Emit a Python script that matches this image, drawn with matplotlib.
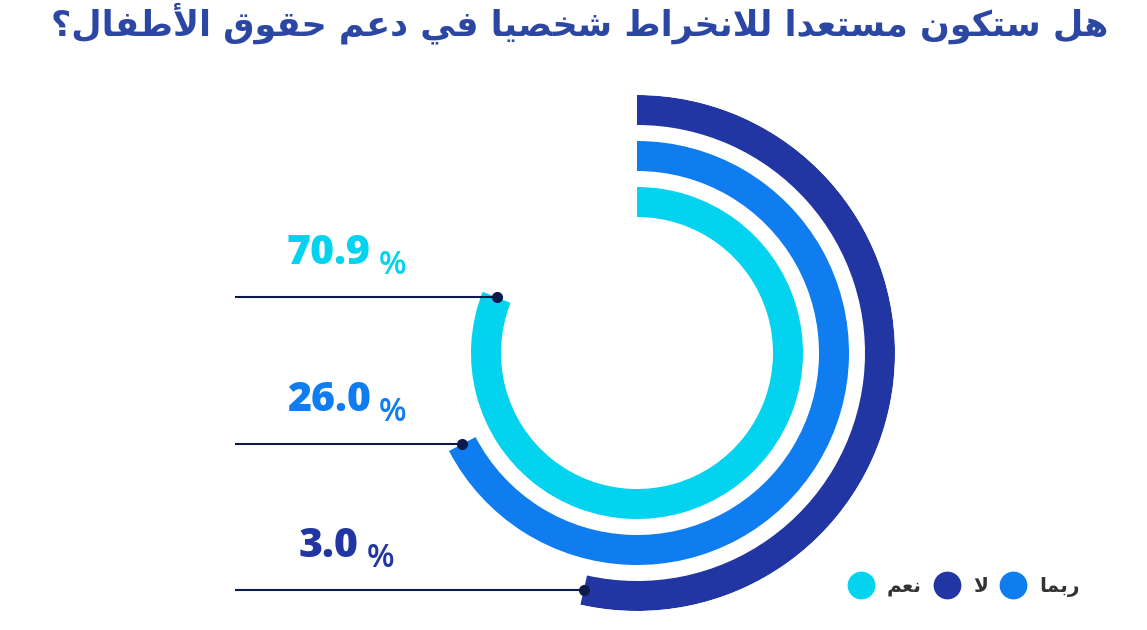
import numpy as np
import matplotlib
matplotlib.use('Agg')
import matplotlib.pyplot as plt
from matplotlib.lines import Line2D

# data
labels = ['نعم', 'ربما', 'لا']
values = [70.9, 26.0, 3.0]
colors = ['#03D3EF', '#0F7CF0', '#2135A3']
title = 'هل ستكون مستعدا للانخراط شخصيا في دعم حقوق الأطفال؟'
legend_order = ['نعم', 'لا', 'ربما']

# simple arabic shaping (matplotlib has no text shaping / bidi)
DUAL = {'ب': 0xFE8F, 'ت': 0xFE95, 'ح': 0xFEA1, 'خ': 0xFEA5, 'س': 0xFEB1,
        'ش': 0xFEB5, 'ص': 0xFEB9, 'ط': 0xFEC1, 'ع': 0xFEC9, 'ف': 0xFED1,
        'ق': 0xFED5, 'ك': 0xFED9, 'ل': 0xFEDD, 'م': 0xFEE1, 'ن': 0xFEE5,
        'ه': 0xFEE9, 'ي': 0xFEF1}
RIGHT = {'ا': 0xFE8D, 'أ': 0xFE83, 'د': 0xFEA9, 'ر': 0xFEAD, 'و': 0xFEED,
         '\ue000': 0xFEFB, '\ue001': 0xFEF7}


def shape(text):
    text = text.replace('لا', '\ue000').replace('لأ', '\ue001')
    out = []
    for i, ch in enumerate(text):
        if ch in DUAL:
            base = DUAL[ch]
        elif ch in RIGHT:
            base = RIGHT[ch]
        else:
            out.append(ch)
            continue
        prev = text[i - 1] if i > 0 else ''
        nxt = text[i + 1] if i + 1 < len(text) else ''
        jp = prev in DUAL
        jn = ch in DUAL and (nxt in DUAL or nxt in RIGHT)
        if jp and jn:
            code = base + 3
        elif jp:
            code = base + 1
        elif jn:
            code = base + 2
        else:
            code = base
        out.append(chr(code))
    return ''.join(reversed(out))


# the chart draws arcs on a sqrt-like scale (fitted from the picture)
def sweep_deg(v):
    return 360 * (0.464 + 0.0411 * np.sqrt(v))


W, H = 1147, 630
fig = plt.figure(figsize=(W / 100, H / 100), dpi=100)

cx, cy, R = 637, 353, 258
ax = fig.add_axes([(cx - R) / W, (H - cy - R) / H, 2 * R / W, 2 * R / H], projection='polar')
ax.set_theta_zero_location('N')
ax.set_theta_direction(-1)
ax.set_ylim(0, R)
ax.axis('off')

r_in = [136, 182, 228]
thick = 30
ends = []
for v, c, r0 in zip(values, colors, r_in):
    sw = np.deg2rad(sweep_deg(v))
    ax.bar(0, thick, width=sw, bottom=r0, align='edge', color=c, edgecolor='none')
    ends.append((sw, r0 + thick / 2))

ov = fig.add_axes([0, 0, 1, 1])
ov.set_xlim(0, W)
ov.set_ylim(H, 0)
ov.axis('off')
ov.patch.set_alpha(0)

fig.canvas.draw()
to_ov = ov.transData.inverted()
line_col = '#0E1A4A'
for (th, rr), v, c in zip(ends, values, colors):
    px, py = to_ov.transform(ax.transData.transform((th, rr)))
    ov.plot([235, px], [py, py], color=line_col, lw=1.5, solid_capstyle='butt')
    ov.plot(px, py, 'o', color=line_col, ms=7)
    t = ov.text(329, py - 33, f'{v:.1f}', ha='center', va='baseline',
                fontsize=29.5, fontweight='heavy', color=c, family='Open Sans')
    ov.annotate('%', xy=(1, 0), xycoords=t, xytext=(8, 0), textcoords='offset pixels',
                ha='left', va='baseline', fontsize=23, fontweight='semibold',
                color=c, family='Open Sans')

ov.text(1108, 23, shape(title), ha='right', va='center', fontsize=25.2,
        fontweight='bold', color='#2C47A3', family='DejaVu Sans')

handles = [Line2D([], [], marker='o', ls='none', ms=20, mec='none',
                  mfc=colors[labels.index(l)]) for l in legend_order]
fig.legend(handles, [shape(l) for l in legend_order], ncol=3, frameon=False,
           loc='center right', bbox_to_anchor=(1080 / W, 1 - 587 / H),
           borderpad=0, borderaxespad=0, handlelength=1.4, handletextpad=0.6,
           columnspacing=0.55, prop={'family': 'DejaVu Sans', 'weight': 'bold', 'size': 14.5},
           labelcolor='#333333')

fig.savefig('out.png', dpi=100)
